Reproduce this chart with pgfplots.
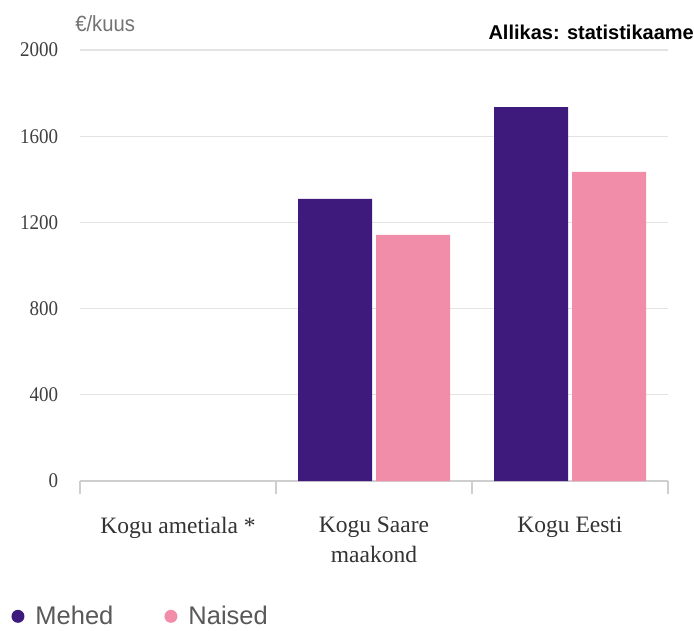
\documentclass[border=0pt]{standalone}
\usepackage{fontspec}
\setmainfont{Liberation Serif}
\newfontfamily\sansf{Liberation Sans}
\usepackage{pgfplots}
\pgfplotsset{compat=1.18}
\definecolor{mehed}{HTML}{3F1A7D}
\definecolor{naised}{HTML}{F28DA9}
\definecolor{gridc}{HTML}{E3E3E3}
\definecolor{axc}{HTML}{CFCFCF}
\begin{document}
\begin{tikzpicture}[x=1pt,y=1pt]
\path[use as bounding box, fill=white] (0,0) rectangle (694,630);
\clip (0,0) rectangle (694,630);
\begin{axis}[
  at={(80pt,149pt)}, anchor=south west,
  scale only axis, width=588pt, height=431pt,
  xmin=-0.5, xmax=2.5, ymin=0, ymax=2000,
  axis x line*=bottom, axis y line*=left,
  y axis line style={draw=none},
  x axis line style={draw=axc, line width=1.2pt},
  ytick={0,400,800,1200,1600,2000},
  ymajorgrids, grid style={draw=gridc, line width=1.2pt},
  ytick style={draw=none},
  /pgf/number format/assume math mode=true,
  /pgf/number format/1000 sep={},
  yticklabel style={font=\fontsize{19}{22}\selectfont, text=black!75, anchor=east, xshift=-14pt, yscale=1.1},
  xtick={0,1,2},
  xticklabels={{Kogu ametiala *},{Kogu Saare\\maakond},{Kogu Eesti}},
  xticklabel style={font=\fontsize{23.5}{30}\selectfont, text=black!80, align=center, anchor=north, yshift=-28pt},
  major x tick style={draw=none},
  minor xtick={-0.5,0.5,1.5,2.5},
  minor x tick style={draw=axc, line width=1.2pt},
  minor tick length=13pt,
  tick align=outside,
  legend columns=2,
  legend style={at={(axis description cs:-0.122,-0.314)}, anchor=west, draw=none, fill=none,
    font=\sansf\fontsize{25.5}{28}\selectfont, text=black!65,
    nodes={inner sep=1pt},
    /tikz/every odd column/.append style={column sep=10pt},
    /tikz/every even column/.append style={column sep=50pt}},
  legend image code/.code={\fill[#1] (0pt,0pt) circle (6.5pt);},
]
\addplot[ybar, bar width=74pt, bar shift=-39pt, fill=mehed, draw=none] coordinates {(1,1309) (2,1735)};
\addlegendentry{Mehed}
\addplot[ybar, bar width=74pt, bar shift=39pt, fill=naised, draw=none] coordinates {(1,1142) (2,1434)};
\addlegendentry{Naised}
\end{axis}
\node[anchor=west, font=\sansf\fontsize{22}{26}\selectfont, text=black!55, xscale=0.92] at (72,606) {€/kuus};
\node[anchor=west, font=\sansf\bfseries\fontsize{20}{24}\selectfont, text=black] at (485,598) {Allikas: statistikaamet};
\end{tikzpicture}
\end{document}
